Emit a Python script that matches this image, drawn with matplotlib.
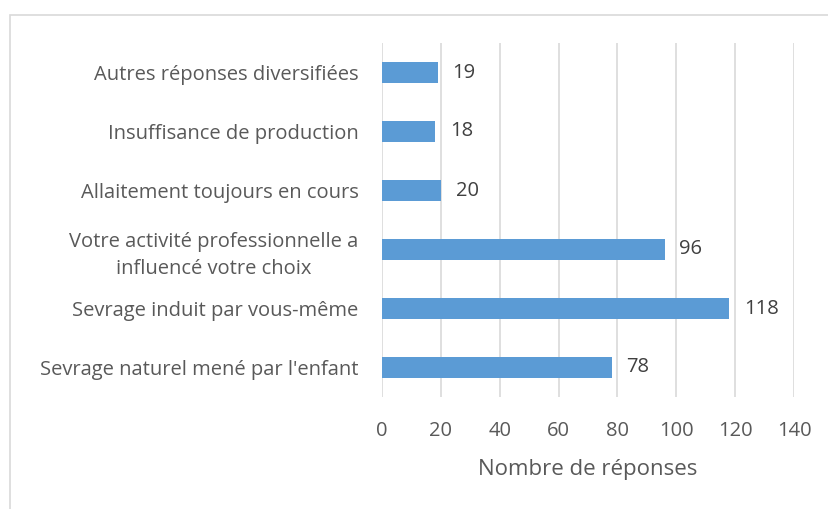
import matplotlib
matplotlib.use("Agg")
import matplotlib.pyplot as plt
from matplotlib.patches import Rectangle

categories = [
    "Sevrage naturel mené par l'enfant",
    "Sevrage induit par vous-même",
    "Votre activité professionnelle a\ninfluencé votre choix",
    "Allaitement toujours en cours",
    "Insuffisance de production",
    "Autres réponses diversifiées",
]
values = [78, 118, 96, 20, 18, 19]
xticks = [0, 20, 40, 60, 80, 100, 120, 140]

plt.rcParams['font.family'] = ['Open Sans', 'DejaVu Sans']

fig = plt.figure(figsize=(8.29, 5.09), dpi=100)
ax = fig.add_axes([382/829, 1-397/509, 412/829, 354/509])

# outer chart border (light gray, like excel)
fig.patches.append(Rectangle((10/829, -0.05), 1.2, 1-15/509+0.05, transform=fig.transFigure,
                             fill=False, edgecolor='#D9D9D9', linewidth=1.2))

y = range(len(categories))
ax.barh(y, values, height=0.36, color='#5B9BD5', zorder=3)
for yi, v in zip(y, values):
    ax.text(v + 5, yi, str(v), va='center', ha='left', fontsize=14.5, color='#404040')

ax.set_xlim(0, 140)
ax.set_ylim(-0.5, len(categories) - 0.5)
ax.set_xticks(xticks)
ax.set_yticks(list(y))
ax.set_yticklabels(categories)
for t in ax.get_yticklabels():
    t.set_multialignment('center')
    t.set_linespacing(1.45)
ax.tick_params(axis='both', length=0, labelsize=14.5, labelcolor='#595959')
ax.tick_params(axis='y', pad=17)
ax.tick_params(axis='x', pad=17)
ax.grid(axis='x', color='#D9D9D9', linewidth=1.2, zorder=0)
for s in ax.spines.values():
    s.set_visible(False)
ax.set_xlabel('Nombre de réponses', fontsize=16, color='#595959', labelpad=13)

plt.savefig("out.png", dpi=100)
